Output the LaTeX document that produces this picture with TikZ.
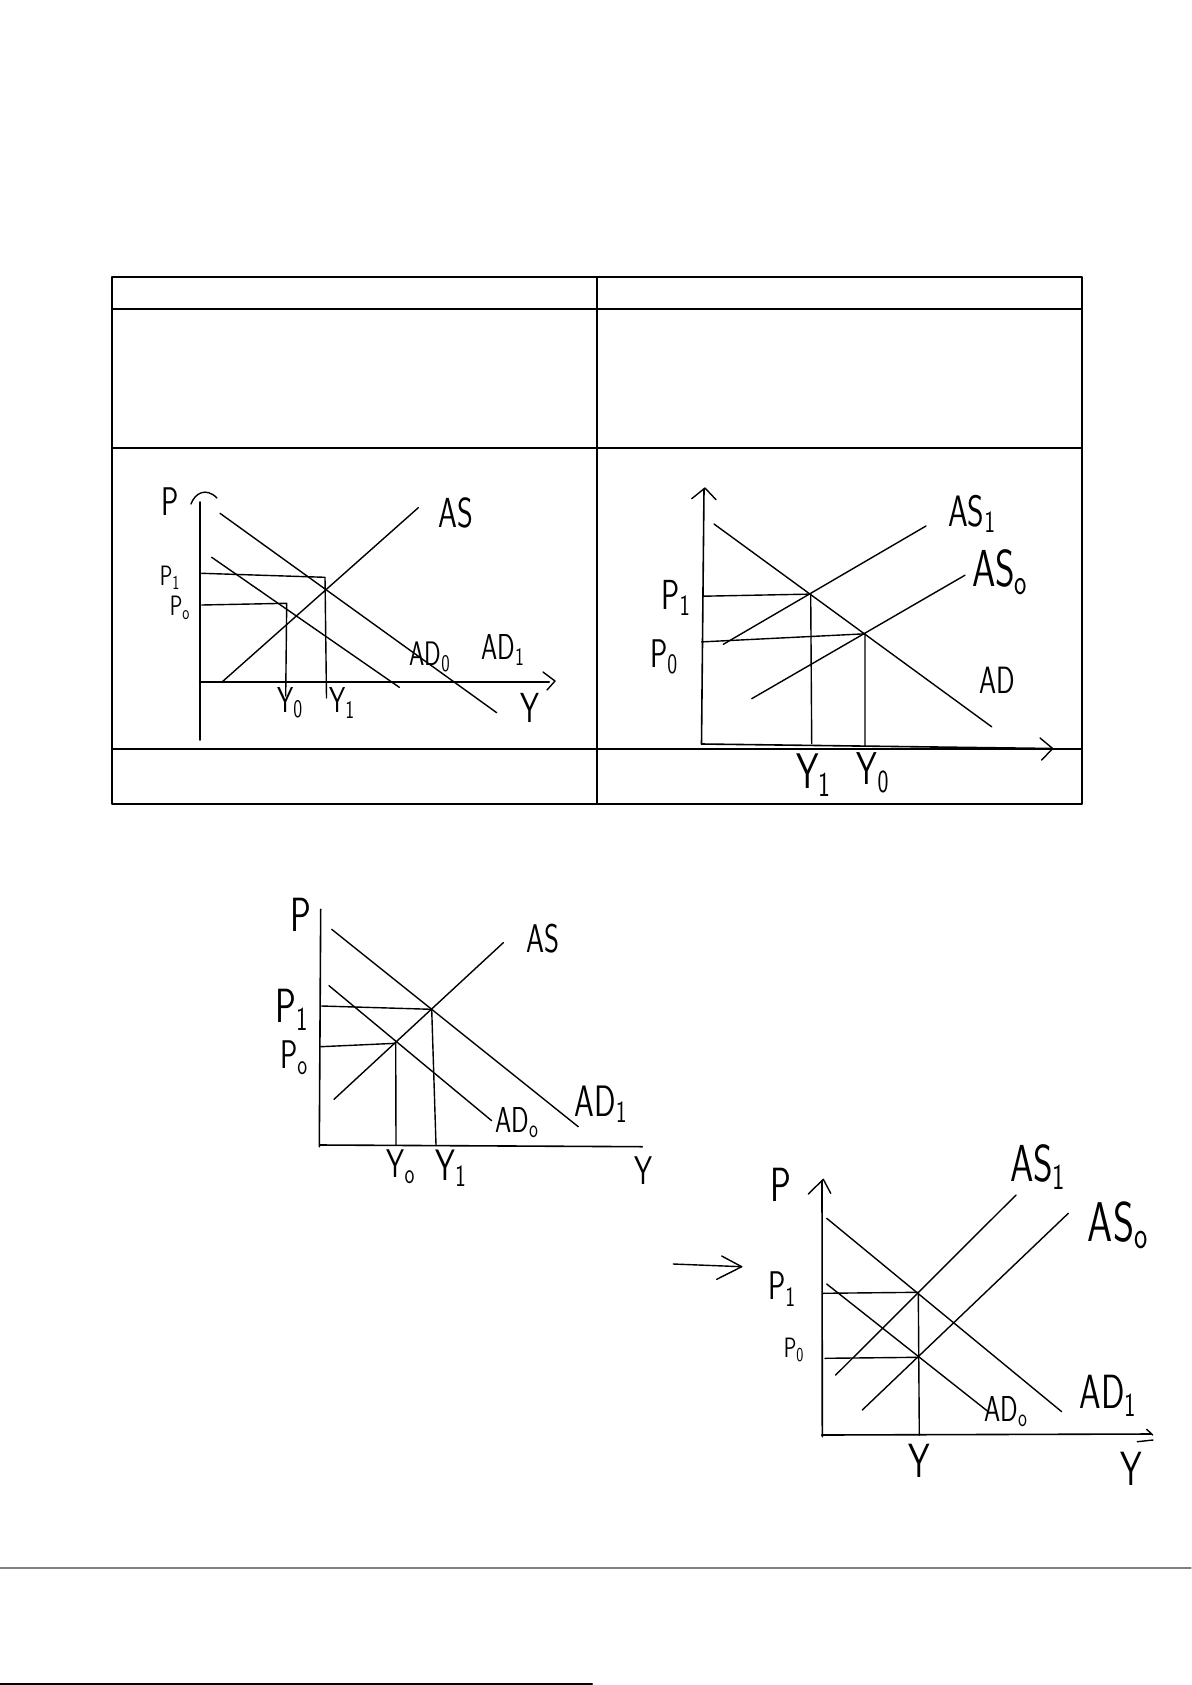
\documentclass[tikz,border=0pt]{standalone}
\usepackage{graphicx}
\newcommand{\hw}[2]{\scalebox{0.72}[1]{\sffamily\fontsize{#1}{#1}\selectfont #2}}
\newcommand{\sub}[1]{\textsubscript{#1}}
\begin{document}
\begin{tikzpicture}[x=0.5pt,y=-0.5pt,line cap=round,line join=round,
  rule/.style={line width=0.75pt},
  ln/.style={line width=0.7pt},
  axis/.style={line width=0.8pt},
  lbl/.style={inner sep=0pt,outer sep=0pt}]
\useasboundingbox (0,0) rectangle (1191,1685);

% ---------- table ----------
\draw[rule] (112,277) rectangle (1082,804);
\draw[rule] (112,309) -- (1082,309);
\draw[rule] (112,448) -- (1082,448);
\draw[rule] (112,749) -- (1082,749);
\draw[rule] (597,277) -- (597,804);

% ---------- top-left graph ----------
\coordinate (tlYt) at (200,502);
\coordinate (tlYb) at (200,740);
\coordinate (tlO) at (200,682);
\coordinate (tlXe) at (549,682);
\draw[axis] (tlYt) -- (tlYb);
\draw[line width=1.3pt] (tlO) -- (tlXe);
\draw[ln] (191,504) .. controls (195,493) and (206,487) .. (217,498);
\draw[ln] (543,672) -- (555,681) -- (547,690);
\coordinate (tlAS1) at (221.7,682.3); \coordinate (tlAS2) at (418.3,507.7);
\coordinate (tlD11) at (220,513.3);   \coordinate (tlD12) at (496.7,712.7);
\coordinate (tlD01) at (211.7,557.3); \coordinate (tlD02) at (399.3,687.3);
\draw[ln] (tlAS1) -- (tlAS2);
\draw[ln] (tlD11) -- (tlD12);
\draw[ln] (tlD01) -- (tlD02);
\draw[ln] (201.7,573.3) -- (325,577.3) -- (326.5,698);
\draw[ln] (201.7,605) -- (286.7,603.3) -- (285.7,696);
\node[lbl] (tlP)  at (170,502) {\hw{20}{P}};
\node[lbl] (tlP1) at (170,578) {\hw{14}{P\sub{1}}};
\node[lbl] (tlP0) at (180,608) {\hw{14}{P\sub{o}}};
\node[lbl] (tlY0) at (290,703) {\hw{18}{Y\sub{0}}};
\node[lbl] (tlY1) at (342,703) {\hw{18}{Y\sub{1}}};
\node[lbl] (tlAS) at (456,513) {\hw{21}{AS}};
\node[lbl] (tlAD0) at (430,657) {\hw{17}{AD\sub{0}}};
\node[lbl] (tlAD1) at (503,650) {\hw{18}{AD\sub{1}}};
\node[lbl] (tlY)  at (530,708) {\hw{21}{Y}};

% ---------- top-right graph ----------
\coordinate (trYt) at (704,489);
\coordinate (trYb) at (701.5,744);
\coordinate (trXe) at (1051,748.5);
\draw[axis] (trYt) -- (trYb);
\draw[axis] (trYb) -- (trXe);
\draw[ln] (691.7,498.7) -- (705,488) -- (716,499.7);
\draw[ln] (1040,738) -- (1052.7,748.5) -- (1041.7,760);
\coordinate (trD1) at (714,524);     \coordinate (trD2) at (991.7,726.8);
\coordinate (trS11) at (723.3,644.3); \coordinate (trS12) at (926,526);
\coordinate (trS01) at (751.7,698.7); \coordinate (trS02) at (965,575.2);
\draw[ln] (trD1) -- (trD2);
\draw[ln] (trS11) -- (trS12);
\draw[ln] (trS01) -- (trS02);
\draw[ln] (703.3,596.2) -- (810.7,594.1) -- (811.7,743.6);
\draw[ln] (701.7,641.9) -- (865,633.8) -- (865,746);
\node[lbl] (trAS1) at (972,514) {\hw{22}{AS\sub{1}}};
\node[lbl] (trAS0) at (1000,572) {\hw{26}{AS\sub{o}}};
\node[lbl] (trAD)  at (997,680) {\hw{19}{AD}};
\node[lbl] (trP1)  at (676,598) {\hw{21}{P\sub{1}}};
\node[lbl] (trP0)  at (664,657) {\hw{20}{P\sub{0}}};
\node[lbl] (trY1)  at (814,775) {\hw{25}{Y\sub{1}}};
\node[lbl] (trY0)  at (873,773) {\hw{23}{Y\sub{0}}};

% ---------- bottom-left graph ----------
\coordinate (blYt) at (320.7,909.3);
\coordinate (blYb) at (319.3,1146.7);
\coordinate (blO)  at (320,1145);
\coordinate (blXe) at (642.3,1146.7);
\draw[axis] (blYt) -- (blYb);
\draw[axis] (blO) -- (blXe);
\coordinate (blS1) at (334,1099.3);   \coordinate (blS2) at (503.3,942.7);
\coordinate (blD11) at (331.7,929.3); \coordinate (blD12) at (578.3,1126.7);
\coordinate (blD01) at (329,985.7);   \coordinate (blD02) at (491.7,1120.7);
\draw[ln] (blS1) -- (blS2);
\draw[ln] (blD11) -- (blD12);
\draw[ln] (blD01) -- (blD02);
\draw[ln] (321.7,1006) -- (431.7,1009.3) -- (436,1145);
\draw[ln] (320.7,1046.7) -- (395.7,1043.3) -- (396,1145);
\node[lbl] (blP)   at (301,915)  {\hw{24}{P}};
\node[lbl] (blP1)  at (292,1010) {\hw{24}{P\sub{1}}};
\node[lbl] (blP0)  at (294,1058) {\hw{20}{P\sub{o}}};
\node[lbl] (blAS)  at (543,939)  {\hw{20}{AS}};
\node[lbl] (blAD1) at (601,1104) {\hw{22}{AD\sub{1}}};
\node[lbl] (blAD0) at (517,1123) {\hw{18}{AD\sub{o}}};
\node[lbl] (blY0)  at (401,1167) {\hw{20}{Y\sub{o}}};
\node[lbl] (blY1)  at (451,1168) {\hw{22}{Y\sub{1}}};
\node[lbl] (blY)   at (643,1171) {\hw{20}{Y}};

% ---------- arrow between ----------
\coordinate (arA) at (673.3,1264);
\coordinate (arB) at (741.7,1266.7);
\draw[ln] (arA) -- (arB);
\draw[ln] (721.7,1256) -- (arB) -- (716.7,1279.3);

% ---------- bottom-right graph ----------
\coordinate (brYt) at (822,1181);
\coordinate (brYb) at (822.3,1436.7);
\coordinate (brO)  at (821.7,1435);
\coordinate (brXe) at (1151,1434);
\draw[axis] (brYt) -- (brYb);
\draw[axis] (brO) -- (brXe);
\draw[ln] (808.3,1194) -- (823.3,1179.3) -- (830.7,1193.3);
\draw[ln] (1146.7,1429.3) -- (1152.7,1435);
\draw[ln] (1137.3,1441.7) -- (1153,1440);
\coordinate (brS11) at (835.7,1375);  \coordinate (brS12) at (1016,1195);
\coordinate (brS01) at (862.3,1410);  \coordinate (brS02) at (1068.3,1213.3);
\coordinate (brD11) at (826.7,1218.3); \coordinate (brD12) at (1061.7,1411.7);
\coordinate (brD01) at (826.7,1284);  \coordinate (brD02) at (988.3,1411.7);
\draw[ln] (brS11) -- (brS12);
\draw[ln] (brS01) -- (brS02);
\draw[ln] (brD11) -- (brD12);
\draw[ln] (brD01) -- (brD02);
\draw[ln] (822.3,1293.3) -- (918.3,1292.3) -- (919.3,1435);
\draw[ln] (825,1358.3) -- (918.3,1357.3);
\node[lbl] (brP)   at (781,1185)  {\hw{24}{P}};
\node[lbl] (brAS1) at (1038,1167) {\hw{26}{AS\sub{1}}};
\node[lbl] (brAS0) at (1118,1225) {\hw{28}{AS\sub{o}}};
\node[lbl] (brP1)  at (782,1289)  {\hw{20}{P\sub{1}}};
\node[lbl] (brP0)  at (794,1350)  {\hw{14}{P\sub{0}}};
\node[lbl] (brAD0) at (1006,1412) {\hw{18}{AD\sub{o}}};
\node[lbl] (brAD1) at (1108,1396) {\hw{24}{AD\sub{1}}};
\node[lbl] (brYm)  at (919,1461)  {\hw{24}{Y}};
\node[lbl] (brY)   at (1131,1469) {\hw{24}{Y}};

% ---------- page rules ----------
\draw[line width=0.6pt,gray] (0,1568) -- (1191,1568);
\draw[line width=1pt] (0,1684) -- (592,1684);
\end{tikzpicture}
\end{document}
